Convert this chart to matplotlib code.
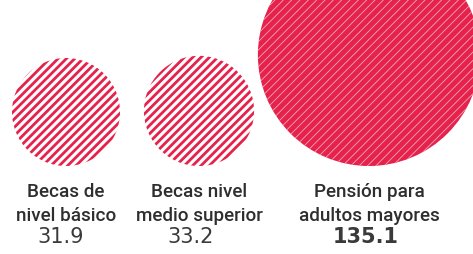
import matplotlib.pyplot as plt
from matplotlib.patches import Circle
import numpy as np

labels = ['Becas de\nnivel básico', 'Becas nivel\nmedio superior', 'Pensión para\nadultos mayores']
values = [31.9, 33.2, 135.1]
value_text = ['31.9', '33.2', '135.1']

RED = '#e6214b'
TEXT = '#2e2e2e'

# layout in pixels (figure is 473x254 at dpi 100)
centers_x = [66, 199, 369]
base_y = 166
label_y = 221
value_y = 243
value_dx = [-5, -8, -3]
scale = 54 / np.sqrt(values[0])

fig = plt.figure(figsize=(4.73, 2.54), dpi=100)
ax = fig.add_axes([0, 0, 1, 1])
ax.set_xlim(0, 473)
ax.set_ylim(254, 0)
ax.axis('off')

for i, v in enumerate(values):
    r = scale * np.sqrt(v)
    cx, cy = centers_x[i], base_y - r
    big = v == max(values)
    if big:
        with plt.rc_context({'hatch.linewidth': 0.6}):
            c = Circle((cx, cy), r, facecolor=RED, edgecolor='#f2a9b9', lw=0, hatch='////')
    else:
        with plt.rc_context({'hatch.linewidth': 2.0}):
            c = Circle((cx, cy), r, facecolor='white', edgecolor=RED, lw=0, hatch='////')
    ax.add_patch(c)

    ax.text(cx, label_y, labels[i], ha='center', va='baseline', fontsize=13.6,
            family='Roboto', fontweight='medium', color=TEXT, linespacing=1.4)
    ax.text(cx + value_dx[i], value_y, value_text[i], ha='center', va='baseline',
            fontsize=15, color='#3a3a3a', fontweight='bold' if big else 'normal')

fig.savefig('out.png', dpi=100)
